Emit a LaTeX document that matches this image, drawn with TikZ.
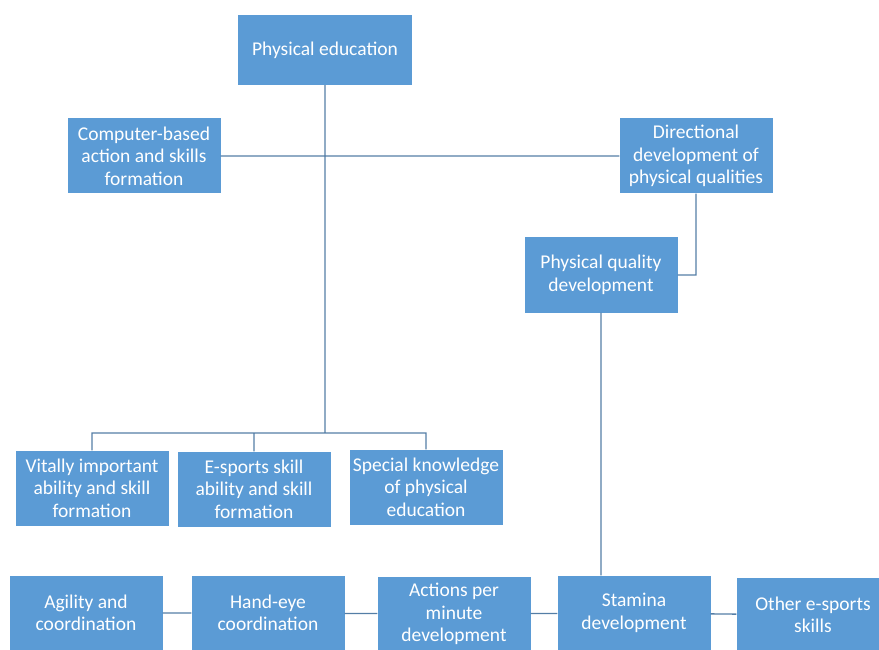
\documentclass[tikz,border=0pt]{standalone}
\usepackage{fontspec}
\setmainfont{Carlito}
\usetikzlibrary{positioning}
\definecolor{boxblue}{RGB}{91,155,213}
\definecolor{linkblue}{RGB}{84,126,166}

\begin{document}
\begin{tikzpicture}[x=1pt,y=-1pt,font=\fontsize{19.5}{22.5}\selectfont,
    box/.style={fill=boxblue,text=white,minimum width=153pt,minimum height=75pt,align=center,inner xsep=0pt,inner ysep=2pt},
    link/.style={draw=linkblue,line width=1.3pt}]
    \useasboundingbox (0,0) rectangle (879,650);
    \node[box,minimum width=174pt,minimum height=70pt] (edu) at (325,50) {Physical education};
    \node[box] (comp) at (144,156) {Computer-based\\action and skills\\formation};
    \node[box] (dir) at (696,156) {Directional\\development of\\physical qualities};
    \node[box] (pqd) at (601,275) {Physical quality\\development};
    \node[box] (vital) at (92,488) {Vitally important\\ability and skill\\formation};
    \node[box] (esport) at (254,489) {E-sports skill\\ability and skill\\formation};
    \node[box] (special) at (426,487) {Special knowledge\\of physical\\education};
    \node[box] (agil) at (86,613) {Agility and\\coordination};
    \node[box] (hand) at (268,613) {Hand-eye\\coordination};
    \node[box] (apm) at (454,614) {Actions per\\minute\\development};
    \node[box] (stam) at (634,613) {Stamina\\development};
    \node[box] (other) at (813,615) {Other e-sports\\skills};
    \coordinate (split) at (325,433);

    \path[link]
    (edu) -- (split)
    (comp) -- (dir)
    (dir.south) |- (pqd.east)
    (pqd.south) -- (pqd.south |- stam.north)
    (vital.north) |- (split) -| (special.north)
    (esport.north) -- (esport.north |- split)
    (agil) -- (hand) -- (apm) -- (stam) -- (other);
\end{tikzpicture}
\end{document}
